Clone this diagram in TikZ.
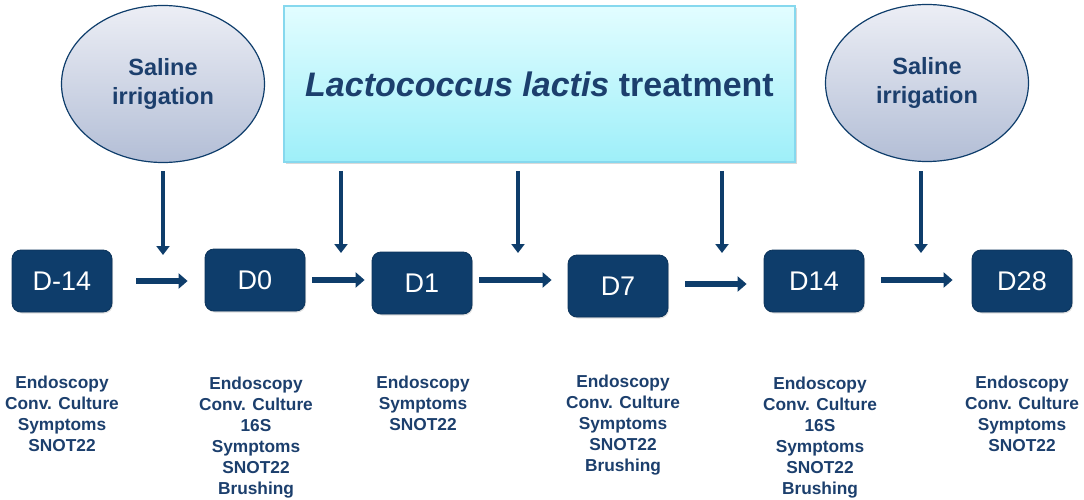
\documentclass[tikz,border=0pt]{standalone}
\usepackage{fontspec}
\setmainfont{Liberation Sans}
\usetikzlibrary{positioning}
\usetikzlibrary{calc}
\usetikzlibrary{arrows.meta}
\usetikzlibrary{shadows}
\usetikzlibrary{shapes.geometric}
\definecolor{dayblue}{HTML}{0E3D6B}
\definecolor{notetext}{HTML}{1C3F6D}
\definecolor{salinetop}{HTML}{ECEEF5}
\definecolor{salinebot}{HTML}{B3BED6}
\definecolor{lactotop}{HTML}{E2FDFF}
\definecolor{lactobot}{HTML}{9EEFF9}
\definecolor{lactoline}{HTML}{86D8EE}
\tikzset{
  daybox/.style={draw=dayblue!85!black, fill=dayblue, rounded corners=9pt,
    minimum width=100pt, minimum height=62pt, text=white, line width=0.8pt,
    font=\fontsize{27}{30}\selectfont,
    drop shadow={opacity=0.25, shadow xshift=1pt, shadow yshift=-1.5pt}},
  saline/.style={ellipse, draw=dayblue, line width=1.2pt,
    top color=salinetop, bottom color=salinebot,
    minimum width=203pt, minimum height=157pt, inner sep=0pt,
    text=notetext, align=center, font=\bfseries\fontsize{23.5}{29.5}\selectfont},
  lacto/.style={draw=lactoline, line width=1.5pt,
    top color=lactotop, bottom color=lactobot,
    minimum width=511pt, minimum height=156pt,
    text=notetext, font=\bfseries\fontsize{34}{38}\selectfont,
    drop shadow={opacity=0.3, shadow xshift=1.5pt, shadow yshift=-2pt}},
  notes/.style={anchor=north, align=center, inner sep=0pt, text=notetext,
    font=\bfseries\fontsize{17.3}{21}\selectfont},
  flow/.style={dayblue, line width=6pt, -{Triangle[width=15pt,length=9pt]}},
  feed/.style={dayblue, line width=4.5pt, -{Triangle[width=13pt,length=9pt]},
    shorten <=8pt}
}

\begin{document}
\begin{tikzpicture}[x=1pt, y=-1pt]
\useasboundingbox (0,0) rectangle (1084,500);
% treatments on top
\node[saline] (sal1) at (163,84) {Saline\\irrigation};
\node[lacto] (treat) at (539.5,84) {\textit{Lactococcus lactis} treatment};
\node[saline] (sal2) at (927,83) {Saline\\irrigation};
% visit days
\node[daybox] (dm14) at (62,281) {D-14};
\node[daybox] (d0) at (255,280) {D0};
\node[daybox] (d1) at (422,283) {D1};
\node[daybox] (d7) at (618,286) {D7};
\node[daybox] (d14) at (814,281) {D14};
\node[daybox] (d28) at (1022,281) {D28};
% arrows along the time line
\draw[flow, shorten <=24pt, shorten >=17pt] (dm14.east) -- (dm14.east -| d0.west);
\draw[flow, shorten <=7pt, shorten >=7pt] (d0.east) -- (d0.east -| d1.west);
\draw[flow, shorten <=7pt, shorten >=16pt] ([yshift=3pt]d1.east) -- ([yshift=3pt]d1.east -| d7.west);
\draw[flow, shorten <=17pt, shorten >=17pt] ([yshift=2pt]d7.east) -- ([yshift=2pt]d7.east -| d14.west);
\draw[flow, shorten <=17pt, shorten >=19pt] ([yshift=1pt]d14.east) -- ([yshift=1pt]d14.east -| d28.west);
% arrows from the treatments
\coordinate (t1) at (163,255);
\coordinate (t2) at (341,253);
\coordinate (t3) at (518,253);
\coordinate (t4) at (722,253);
\coordinate (t5) at (921,253);
\draw[feed] (sal1.south) -- (t1);
\draw[feed] (t2 |- treat.south) -- (t2);
\draw[feed] (t3 |- treat.south) -- (t3);
\draw[feed] (t4 |- treat.south) -- (t4);
\draw[feed, shorten <=9pt] (t5 |- sal2.south) -- (t5);
% what is done at each visit
\node[notes] (n1) at (62,376) {Endoscopy\\Conv. Culture\\Symptoms\\SNOT22};
\node[notes] (n2) at (256,377) {Endoscopy\\Conv. Culture\\16S\\Symptoms\\SNOT22\\Brushing};
\node[notes] (n3) at (423,376) {Endoscopy\\Symptoms\\SNOT22};
\node[notes] (n4) at (623,375) {Endoscopy\\Conv. Culture\\Symptoms\\SNOT22\\Brushing};
\node[notes] (n5) at (820,377) {Endoscopy\\Conv. Culture\\16S\\Symptoms\\SNOT22\\Brushing};
\node[notes] (n6) at (1022,376) {Endoscopy\\Conv. Culture\\Symptoms\\SNOT22};
\end{tikzpicture}
\end{document}
